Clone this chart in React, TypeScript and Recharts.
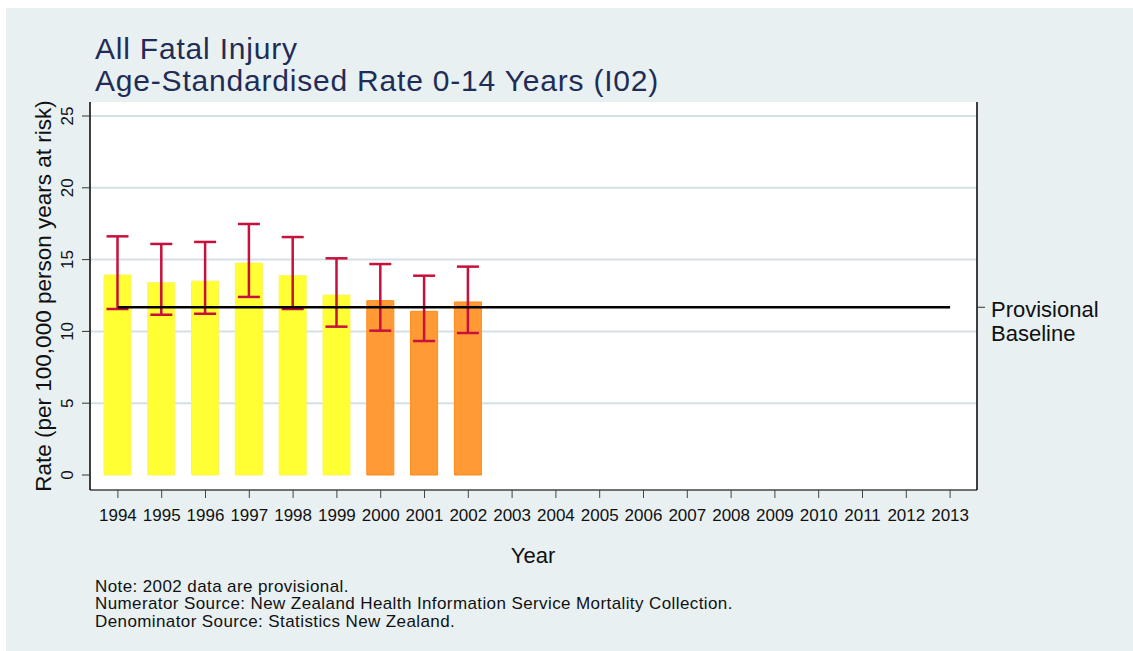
import React from 'react';
import {
  ComposedChart,
  Bar,
  Cell,
  ErrorBar,
  Line,
  XAxis,
  YAxis,
  CartesianGrid,
} from 'recharts';

const FONT = '"Liberation Sans", Arial, Helvetica, sans-serif';

const YEARS = [
  '1994', '1995', '1996', '1997', '1998', '1999', '2000', '2001', '2002', '2003',
  '2004', '2005', '2006', '2007', '2008', '2009', '2010', '2011', '2012', '2013',
];
// age-standardised rate per 100,000, 0-14 years
const RATE = [13.93, 13.39, 13.5, 14.76, 13.88, 12.53, 12.14, 11.4, 12.05];
const LOWER_CI = [11.56, 11.16, 11.23, 12.4, 11.56, 10.33, 10.05, 9.33, 9.89];
const UPPER_CI = [16.62, 16.09, 16.23, 17.48, 16.57, 15.09, 14.69, 13.88, 14.51];
const BASELINE_YEARS = ['2000', '2001', '2002'];
const BASELINE = 11.68;
const BASELINE_LABEL = ['Provisional', 'Baseline'];

const Y_TICKS = [0, 5, 10, 15, 20, 25];
const GRID_VALUES = [5, 10, 15, 20, 25];

const TITLE = ['All Fatal Injury', 'Age-Standardised Rate 0-14 Years (I02)'];
const NOTES = [
  'Note: 2002 data are provisional.',
  'Numerator Source: New Zealand Health Information Service Mortality Collection.',
  'Denominator Source: Statistics New Zealand.',
];

const rows = YEARS.map((year, i) => {
  const rate = RATE[i];
  return {
    year,
    rate: rate ?? null,
    ci: rate != null ? [rate - LOWER_CI[i], UPPER_CI[i] - rate] : null,
    baseline: BASELINE,
  };
});

const YTick = ({ x, y, payload }: any) => (
  <text
    x={x}
    y={y}
    transform={`rotate(-90 ${x} ${y})`}
    textAnchor="middle"
    fontSize={17}
    fill="#111"
  >
    {payload.value}
  </text>
);

const BaselineTick = ({ x, y }: any) => (
  <text x={x} y={y} fontSize={22} fill="#111">
    <tspan x={x} dy={10}>{BASELINE_LABEL[0]}</tspan>
    <tspan x={x} dy={24}>{BASELINE_LABEL[1]}</tspan>
  </text>
);

const App = () => {
  return (
    <div
      style={{
        position: 'absolute',
        left: 0,
        top: 0,
        width: 1133,
        height: 651,
        background: '#fff',
        fontFamily: FONT,
      }}
    >
      <div
        style={{
          position: 'absolute',
          left: 6,
          top: 8,
          right: 0,
          bottom: 0,
          background: '#E8F0F2',
        }}
      />
      <div style={{ position: 'absolute', left: 0, top: 0 }}>
        <ComposedChart
          width={1133}
          height={651}
          data={rows}
          margin={{ top: 102, right: 0, bottom: 121, left: 0 }}
        >
          <CartesianGrid
            yAxisId="left"
            vertical={false}
            horizontalValues={GRID_VALUES}
            stroke="#D3E0E7"
            strokeWidth={2}
            fill="#fff"
          />
          <XAxis
            dataKey="year"
            height={40}
            interval={0}
            padding={{ left: 6, right: 5 }}
            tickSize={8}
            tickMargin={11}
            tick={{ fontSize: 17, fill: '#111' }}
            axisLine={{ stroke: '#444', strokeWidth: 1.5 }}
            tickLine={{ stroke: '#444' }}
          />
          <YAxis
            yAxisId="left"
            width={90}
            domain={[0, 25]}
            ticks={Y_TICKS}
            padding={{ top: 14, bottom: 15 }}
            tickSize={8}
            tickMargin={9}
            tick={<YTick />}
            axisLine={{ stroke: '#000', strokeWidth: 1.5 }}
            tickLine={{ stroke: '#333' }}
          />
          <YAxis
            yAxisId="right"
            orientation="right"
            width={156}
            domain={[0, 25]}
            ticks={[BASELINE]}
            interval={0}
            padding={{ top: 14, bottom: 15 }}
            tickSize={8}
            tickMargin={6}
            tick={<BaselineTick />}
            axisLine={{ stroke: '#000', strokeWidth: 1.5 }}
            tickLine={{ stroke: '#333' }}
          />
          <Bar yAxisId="left" dataKey="rate" barSize={27} isAnimationActive={false}>
            {rows.map((r) => {
              const base = BASELINE_YEARS.includes(r.year);
              return (
                <Cell
                  key={r.year}
                  fill={base ? '#FF9A35' : '#FFFF33'}
                  stroke={base ? '#FF8A1A' : '#FFF25A'}
                  strokeWidth={1}
                />
              );
            })}
            <ErrorBar
              dataKey="ci"
              width={11}
              stroke="#C8103C"
              strokeWidth={2.5}
              isAnimationActive={false}
            />
          </Bar>
          <Line
            yAxisId="right"
            dataKey="baseline"
            stroke="#000"
            strokeWidth={2.5}
            dot={false}
            activeDot={false}
            isAnimationActive={false}
          />
        </ComposedChart>
      </div>
      <svg
        width={1133}
        height={651}
        style={{ position: 'absolute', left: 0, top: 0, pointerEvents: 'none' }}
      >
        <text fontFamily={FONT} fill="#1F2D56" fontSize={30} letterSpacing={0.8}>
          <tspan x={95} y={59}>{TITLE[0]}</tspan>
          <tspan x={95} y={91}>{TITLE[1]}</tspan>
        </text>
        <text
          x={51}
          y={296}
          transform="rotate(-90 51 296)"
          textAnchor="middle"
          fontSize={22.5}
          fill="#111"
          fontFamily={FONT}
        >
          Rate (per 100,000 person years at risk)
        </text>
        <text x={533} y={563} textAnchor="middle" fontSize={22} fill="#111" fontFamily={FONT}>
          Year
        </text>
        <text fontFamily={FONT} fill="#111" fontSize={17} letterSpacing={0.4}>
          {NOTES.map((n, i) => (
            <tspan key={i} x={95} y={592 + i * 17.3}>{n}</tspan>
          ))}
        </text>
      </svg>
    </div>
  );
};

export default App;
